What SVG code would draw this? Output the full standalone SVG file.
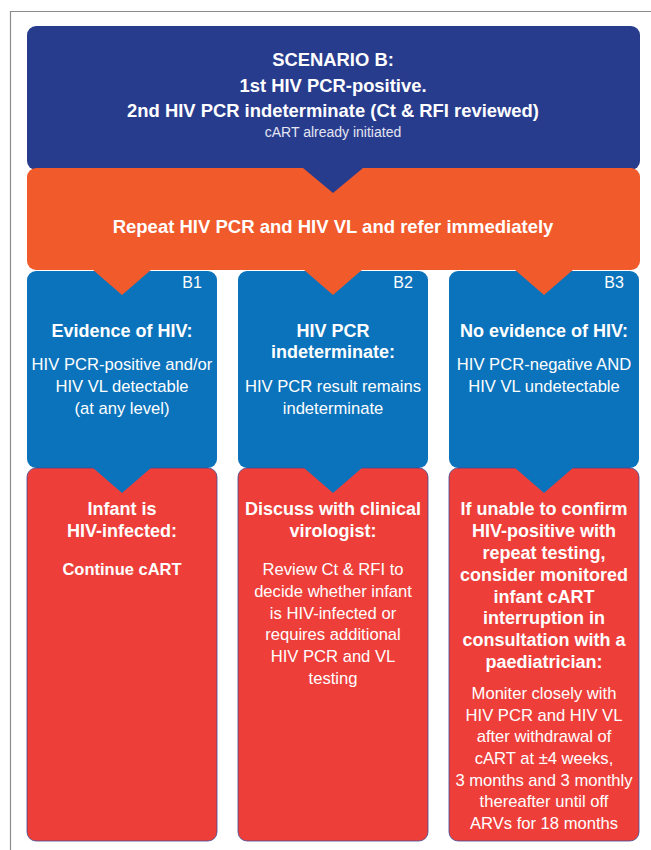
<svg xmlns="http://www.w3.org/2000/svg" width="651" height="850" viewBox="0 0 651 850">
<style>
text{font-family:"Liberation Sans",Arial,sans-serif;fill:#fff;text-anchor:middle}
.b{font-weight:bold;font-size:18px}
.h{font-weight:bold;font-size:18.4px}
.r{font-size:16.6px}
.lbl{font-size:16px}
.top{fill:#283c8e}
.org{fill:#f15a2b}
.blu{fill:#0b73bb}
.red{fill:#ed3e3a}
.edge{stroke:#3f4a96;stroke-width:0.8}
</style>
<rect width="651" height="850" fill="#fff"/>
<path d="M10.5 850 V11.5 H651" fill="none" stroke="#8c8c8c" stroke-width="1.2"/>

<g id="scenario">
<rect class="top" x="27" y="26" width="613" height="144" rx="9"/>
<text class="h" x="333" y="66">SCENARIO B:</text>
<text class="h" x="333" y="92">1st HIV PCR-positive.</text>
<text class="h" x="333" y="117">2nd HIV PCR indeterminate (Ct &amp; RFI reviewed)</text>
<text x="333" y="137" style="font-size:14px;fill:#e4e6f2">cART already initiated</text>
</g>

<g id="repeat">
<rect class="org" x="27" y="168" width="613" height="102" rx="9"/>
<text class="b" x="333" y="233" style="font-size:18.5px">Repeat HIV PCR and HIV VL and refer immediately</text>
</g>

<g id="B1">
<rect class="blu" x="27" y="271" width="190" height="197" rx="9"/>
<text class="lbl" x="192" y="288">B1</text>
<text class="b" x="122" y="337">Evidence of HIV:</text>
<text class="r" x="122" y="370">HIV PCR-positive and/or</text>
<text class="r" x="122" y="392">HIV VL detectable</text>
<text class="r" x="122" y="414">(at any level)</text>
</g>
<g id="B2">
<rect class="blu" x="238" y="271" width="190" height="197" rx="9"/>
<text class="lbl" x="403" y="288">B2</text>
<text class="b" x="333" y="337">HIV PCR</text>
<text class="b" x="333" y="358">indeterminate:</text>
<text class="r" x="333" y="392">HIV PCR result remains</text>
<text class="r" x="333" y="414">indeterminate</text>
</g>
<g id="B3">
<rect class="blu" x="449" y="271" width="190" height="197" rx="9"/>
<text class="lbl" x="614" y="288">B3</text>
<text class="b" x="544" y="337">No evidence of HIV:</text>
<text class="r" x="544" y="370">HIV PCR-negative AND</text>
<text class="r" x="544" y="392">HIV VL undetectable</text>
</g>

<g id="R1">
<rect class="red edge" x="27" y="468" width="190" height="373" rx="9"/>
<text class="b" x="122" y="515">Infant is</text>
<text class="b" x="122" y="537">HIV-infected:</text>
<text class="b" x="122" y="575" style="font-size:16.5px">Continue cART</text>
</g>
<g id="R2">
<rect class="red edge" x="238" y="468" width="190" height="373" rx="9"/>
<text class="b" x="333" y="515">Discuss with clinical</text>
<text class="b" x="333" y="537">virologist:</text>
<text class="r" x="333" y="575">Review Ct &amp; RFI to</text>
<text class="r" x="333" y="597">decide whether infant</text>
<text class="r" x="333" y="619">is HIV-infected or</text>
<text class="r" x="333" y="640">requires additional</text>
<text class="r" x="333" y="662">HIV PCR and VL</text>
<text class="r" x="333" y="684">testing</text>
</g>
<g id="R3">
<rect class="red edge" x="449" y="468" width="190" height="373" rx="9"/>
<text class="b" x="544" y="515">If unable to confirm</text>
<text class="b" x="544" y="537">HIV-positive with</text>
<text class="b" x="544" y="559">repeat testing,</text>
<text class="b" x="544" y="581">consider monitored</text>
<text class="b" x="544" y="603">infant cART</text>
<text class="b" x="544" y="624">interruption in</text>
<text class="b" x="544" y="646">consultation with a</text>
<text class="b" x="544" y="668">paediatrician:</text>
<text class="r" x="544" y="699">Moniter closely with</text>
<text class="r" x="544" y="721">HIV PCR and HIV VL</text>
<text class="r" x="544" y="742">after withdrawal of</text>
<text class="r" x="544" y="764">cART at ±4 weeks,</text>
<text class="r" x="544" y="786">3 months and 3 monthly</text>
<text class="r" x="544" y="807">thereafter until off</text>
<text class="r" x="544" y="829">ARVs for 18 months</text>
</g>

<g id="connectors">
<polygon class="top" points="303,168 363,168 333,193"/>
<polygon class="org" points="92,269 152,269 122,295"/>
<polygon class="org" points="303,269 363,269 333,295"/>
<polygon class="org" points="514,269 574,269 544,295"/>
<polygon class="blu" points="92,467 152,467 122,493"/>
<polygon class="blu" points="303,467 363,467 333,493"/>
<polygon class="blu" points="514,467 574,467 544,493"/>
</g>
</svg>
